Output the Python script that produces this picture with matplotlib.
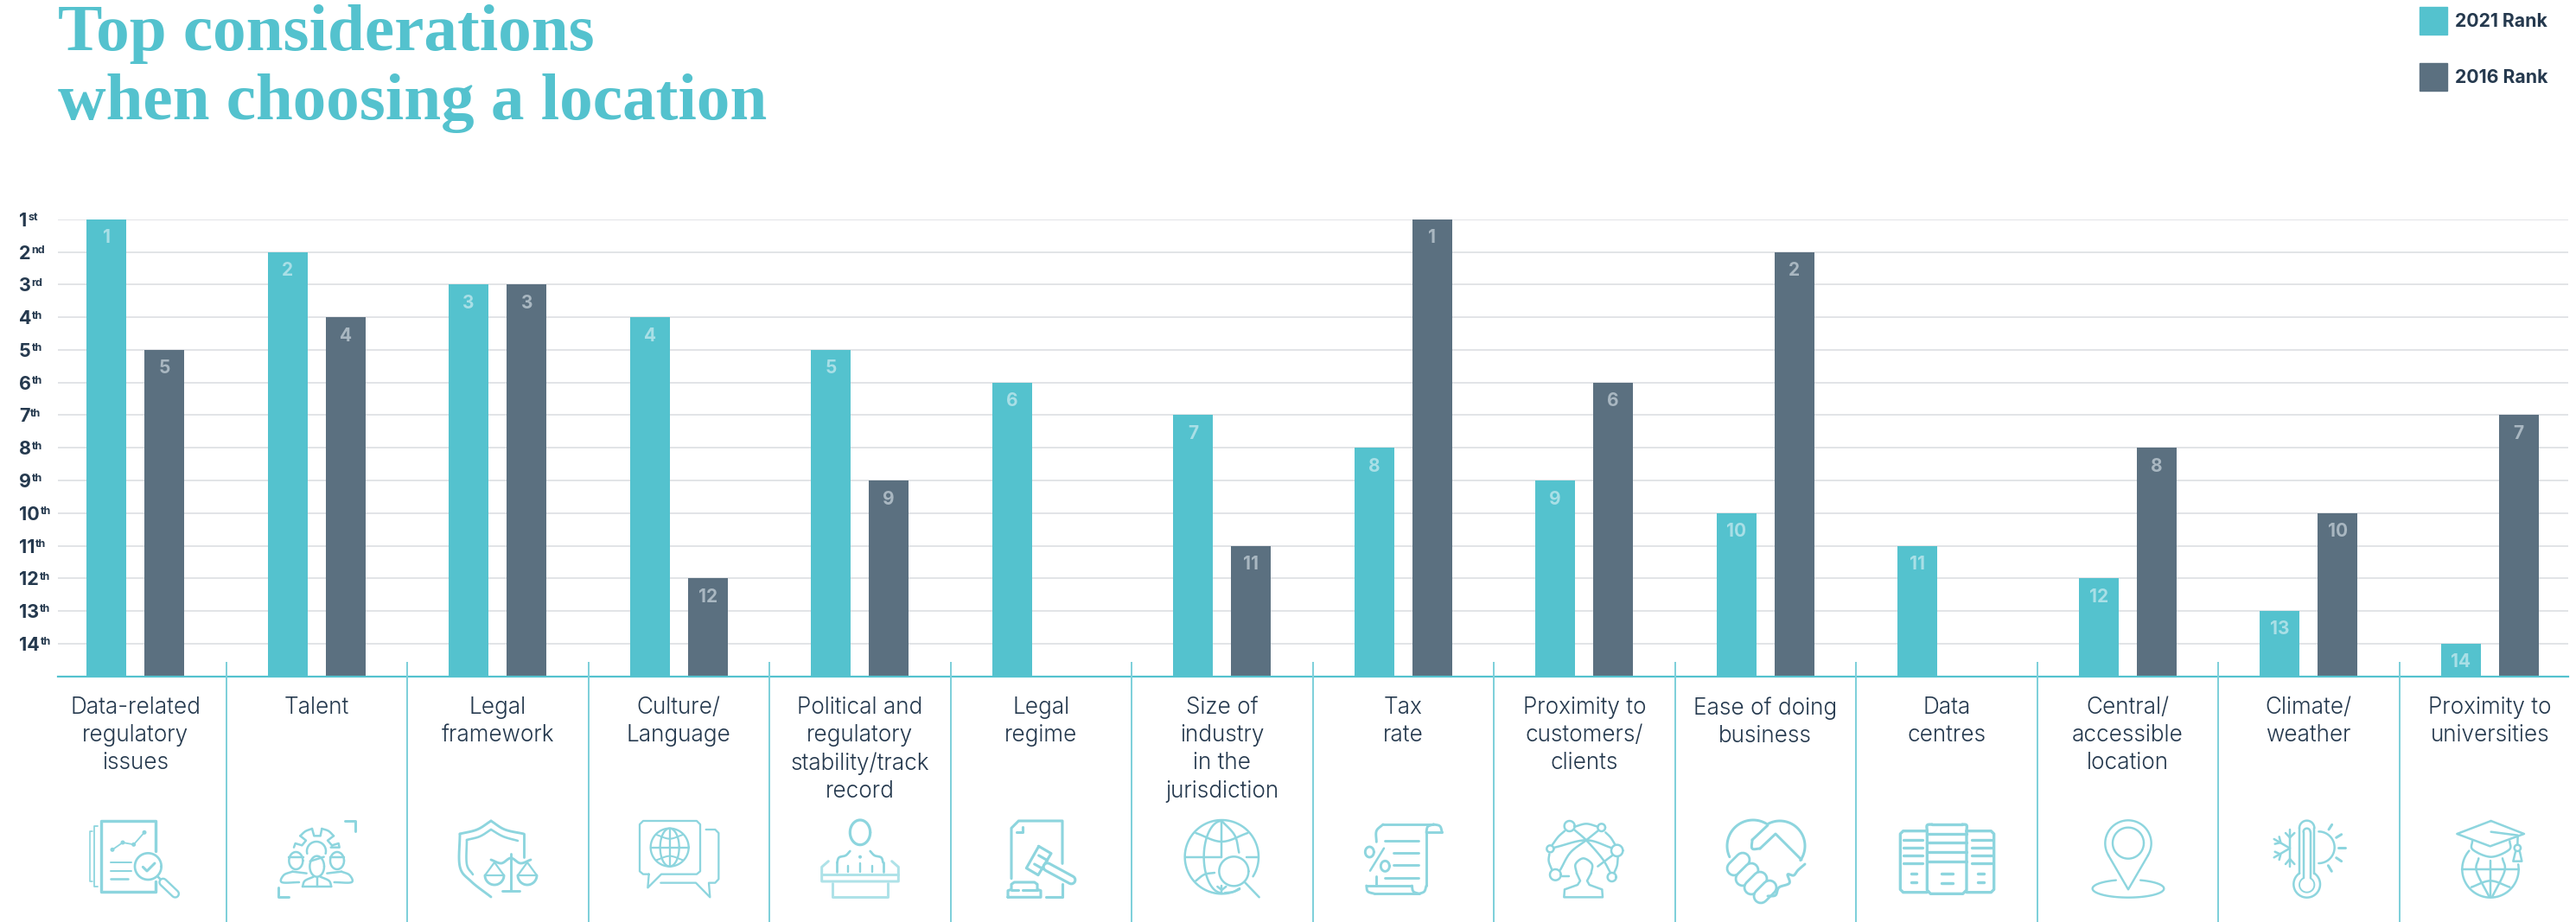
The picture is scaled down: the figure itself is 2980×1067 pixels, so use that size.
import numpy as np
import matplotlib
matplotlib.use("Agg")
import matplotlib.pyplot as plt
from matplotlib.lines import Line2D
from matplotlib.patches import Patch

# ---- data -------------------------------------------------------------
categories = [
    "Data-related\nregulatory\nissues", "Talent", "Legal\nframework",
    "Culture/\nLanguage", "Political and\nregulatory\nstability/track\nrecord",
    "Legal\nregime", "Size of\nindustry\nin the\njurisdiction", "Tax\nrate",
    "Proximity to\ncustomers/\nclients", "Ease of doing\nbusiness",
    "Data\ncentres", "Central/\naccessible\nlocation", "Climate/\nweather",
    "Proximity to\nuniversities",
]
rank_2021 = [1, 2, 3, 4, 5, 6, 7, 8, 9, 10, 11, 12, 13, 14]
rank_2016 = [5, 4, 3, 12, 9, None, 11, 1, 6, 2, None, 8, 10, 7]
tick_ranks = [1, 2, 3, 4, 5, 6, 7, 8, 9, 10, 11, 12, 13, 14]
tick_suffixes = ["st", "nd", "rd", "th", "th", "th", "th", "th", "th", "th",
                 "th", "th", "th", "th"]
title_lines = ["Top considerations", "when choosing a location"]

# ---- style ------------------------------------------------------------
TEAL = "#54C2CE"
SLATE = "#5B7080"
INK = "#25394E"
GRID = "#E2E4E7"
ICON = "#8DD5DE"
ICON_PALE = "#AEE2E8"
RULE = "#7FD0DA"
W, H, DPI = 2980, 1067, 100
PX = 72 / DPI  # points per output pixel
SANS = ["Inter", "DejaVu Sans"]

fig = plt.figure(figsize=(W / DPI, H / DPI), dpi=DPI, facecolor="white")

# Overlay in output pixels for the title, column rules and pictograms.
deco = fig.add_axes([0, 0, 1, 1], zorder=3)
deco.set_xlim(0, W)
deco.set_ylim(H, 0)
deco.axis("off")
deco.patch.set_alpha(0)

# ---- chart ------------------------------------------------------------
left, right, top, bottom = 67, 2971, 254, 782.5
col_w, col0 = 209.5, 156.75
ax = fig.add_axes([left / W, 1 - bottom / H, (right - left) / W, (bottom - top) / H])
ax.set_xlim((left - col0) / col_w, (right - col0) / col_w)
ax.set_ylim(15, 1)
ax.patch.set_alpha(0)
for s in ("top", "left", "right"):
    ax.spines[s].set_visible(False)
ax.spines["bottom"].set_color(TEAL)
ax.spines["bottom"].set_linewidth(2.2 * PX)
ax.set_xticks([])
ax.set_yticks(tick_ranks)
ax.set_yticklabels([str(r) for r in tick_ranks], fontfamily=SANS, fontweight="bold",
                   fontsize=15.5, color=INK, ha="left")
ax.tick_params(axis="y", length=0, pad=(left - 22) * PX)
ax.grid(axis="y", color=GRID, linewidth=2 * PX)
ax.set_axisbelow(True)

for lab, suffix in zip(ax.get_yticklabels(), tick_suffixes):
    ax.annotate(suffix, xy=(1, 0.5), xycoords=lab, xytext=(0.6, 0.4),
                textcoords="offset points", ha="left", va="baseline",
                fontfamily=SANS, fontweight="bold", fontsize=9, color=INK)

bar_w = 46 / col_w
offset = 33.5 / col_w
BASE = 15
for i, (a, b) in enumerate(zip(rank_2021, rank_2016)):
    for rank, dx, colour, text_c in ((a, -offset, TEAL, "#A9DFE6"),
                                     (b, offset, SLATE, "#A9B7C1")):
        if rank is None:
            continue
        ax.bar(i + dx, rank - BASE, bottom=BASE, width=bar_w, color=colour, zorder=2)
        ax.annotate(str(rank), (i + dx, rank), xytext=(0, -27.5 * PX),
                    textcoords="offset points", ha="center", va="baseline",
                    fontfamily=SANS, fontweight="bold", fontsize=15, color=text_c, zorder=3)

fig.legend(
    handles=[Patch(color=TEAL, label="2021 Rank"), Patch(color=SLATE, label="2016 Rank")],
    loc="upper left", bbox_to_anchor=(2799, 8), bbox_transform=deco.transData,
    frameon=False, borderpad=0, borderaxespad=0, handlelength=1.49, handleheight=1.91,
    handletextpad=0.42, labelspacing=1.58, labelcolor=INK,
    prop={"family": SANS, "weight": "bold", "size": 15.3},
)

# ---- title and column labels -------------------------------------------
for line, base in zip(title_lines, (58, 138)):
    deco.text(67, base, line, fontfamily=["Liberation Serif"], fontweight="bold",
              fontsize=55.5, color=TEAL, ha="left", va="baseline")

for k in range(13):
    x = col0 + col_w * (k + 0.5)
    deco.add_line(Line2D([x, x], [767, H], color=RULE, lw=2 * PX))

for i, label in enumerate(categories):
    deco.text(col0 + col_w * i, 806, label, fontfamily=SANS, fontweight=300,
              fontsize=18.8, color=INK, ha="center", va="top", linespacing=1.31)


# ---- pictograms ---------------------------------------------------------
class Pen:
    """Draws pictogram strokes given in a local grid, scaled into output pixels."""

    def __init__(self, ox, oy, scale=1 / 3, lw=2.7, color=ICON):
        self.ox, self.oy, self.s, self.lw, self.color = ox, oy, scale, lw, color

    def _draw(self, xs, ys, lw=None, color=None, **kw):
        xs = self.ox + np.asarray(xs, float) * self.s
        ys = self.oy + np.asarray(ys, float) * self.s
        deco.add_line(Line2D(xs, ys, lw=(lw or self.lw) * PX, color=color or self.color,
                             solid_capstyle="round", solid_joinstyle="round", **kw))

    def line(self, pts, lw=None, color=None):
        xs, ys = zip(*pts)
        self._draw(xs, ys, lw, color)

    def curve(self, pts, lw=None, color=None, n=14):
        # Catmull-Rom stroke through the given control points
        p = np.asarray(pts, float)
        p = np.vstack([2 * p[0] - p[1], p, 2 * p[-1] - p[-2]])
        out = []
        for j in range(1, len(p) - 2):
            for t in np.linspace(0, 1, n, endpoint=False):
                out.append(0.5 * ((2 * p[j]) + (p[j + 1] - p[j - 1]) * t
                                  + (2 * p[j - 1] - 5 * p[j] + 4 * p[j + 1] - p[j + 2]) * t ** 2
                                  + (3 * p[j] - p[j - 1] - 3 * p[j + 1] + p[j + 2]) * t ** 3))
        out.append(p[-2])
        out = np.array(out)
        self._draw(out[:, 0], out[:, 1], lw, color)

    def arc(self, cx, cy, rx, ry=None, t0=0, t1=360, lw=None, color=None):
        ry = rx if ry is None else ry
        t = np.radians(np.linspace(t0, t1, 90))
        self._draw(cx + rx * np.cos(t), cy + ry * np.sin(t), lw, color)

    def dot(self, cx, cy, r):
        t = np.linspace(0, 2 * np.pi, 30)
        deco.fill(self.ox + (cx + r * np.cos(t)) * self.s, self.oy + (cy + r * np.sin(t)) * self.s,
                  color=self.color, lw=0)

    def capsule(self, p0, p1, width, lw=None):
        outer = width * self.s / PX + 2 * (lw or self.lw)
        inner = width * self.s / PX
        xs, ys = zip(p0, p1)
        self._draw(xs, ys, outer / 1.0)
        xs2 = self.ox + np.asarray(xs, float) * self.s
        ys2 = self.oy + np.asarray(ys, float) * self.s
        deco.add_line(Line2D(xs2, ys2, lw=inner * PX, color="white", solid_capstyle="round"))


def icon_report():
    p = Pen(80, 940)
    p.line([(300, 135), (300, 30), (110, 30), (110, 277), (300, 277), (300, 240)], lw=3.4)
    p.line([(100, 47), (88, 47), (88, 258), (100, 258)], lw=1.8)
    p.line([(82, 65), (72, 65), (72, 240), (82, 240)], lw=1.6)
    p.line([(150, 130), (186, 105), (224, 112), (261, 70)], lw=1.8)
    for c in [(150, 130), (186, 105), (224, 112), (261, 70)]:
        p.dot(*c, 7.5)
    p.line([(145, 173), (217, 173)], lw=2)
    p.line([(145, 203), (217, 203)], lw=2)
    p.line([(145, 231), (205, 231)], lw=2.6)
    p.arc(274, 188, 46)
    p.line([(256, 190), (270, 204), (297, 177)], lw=3)
    p.line([(308, 224), (320, 236)])
    p.capsule((326, 243), (368, 283), 13, lw=2.4)


def icon_talent():
    p = Pen(80, 940, lw=2.5)
    p.line([(957, 30), (992, 30), (992, 65)], lw=3)
    p.line([(727, 262), (727, 295), (762, 295)], lw=3)
    p.line([(780, 122), (785, 108), (808, 115), (822, 98), (802, 82)])
    p.curve([(802, 82), (820, 66), (843, 57)])
    p.line([(843, 57), (850, 82), (872, 82), (877, 57)])
    p.curve([(877, 57), (900, 65), (918, 82)])
    p.line([(918, 82), (897, 98), (912, 115), (935, 108), (938, 122), (908, 122)])
    p.arc(858, 135, 33, t0=165, t1=375)
    for cx, cy, rx, ry in [(787, 168, 24, 30), (930, 168, 24, 30), (860, 188, 25, 36)]:
        p.arc(cx, cy, rx, ry)
    p.line([(762, 155), (812, 155)])
    p.line([(905, 155), (955, 155)])
    p.line([(836, 170), (884, 155)])
    p.curve([(798, 243), (738, 243), (745, 218), (775, 206)])
    p.line([(775, 206), (824, 212)])
    p.curve([(920, 243), (980, 243), (973, 218), (945, 206)])
    p.line([(945, 206), (895, 212)])
    p.curve([(810, 258), (818, 238), (848, 224)])
    p.curve([(910, 258), (902, 238), (872, 224)])
    p.line([(810, 258), (910, 258)])
    p.line([(860, 228), (860, 258)])


def icon_shield():
    p = Pen(0, 0, scale=1, lw=2.9)
    p.curve([(568, 950), (552, 960), (532, 965)])
    p.curve([(532, 965), (532, 1003), (545, 1020), (568, 1038)])
    p.curve([(568, 950), (584, 960), (606, 965)])
    p.line([(606, 965), (606, 992)])
    p.curve([(568, 960), (555, 968), (540, 972)], lw=2.6)
    p.curve([(540, 972), (540, 1000), (547, 1012)], lw=2.6)
    p.curve([(568, 960), (582, 968), (599, 973)], lw=2.6)
    p.line([(591, 988), (591, 1030)])
    p.line([(581, 1031), (601, 1031)])
    p.curve([(568, 995), (580, 999), (591, 993), (602, 999), (614, 995)])
    for c in (572, 610):
        p.line([(c - 11, 1013), (c, 998), (c + 11, 1013), (c - 11, 1013)], lw=2.2)
        p.arc(c, 1013, 11, t0=0, t1=180)


def icon_chat():
    p = Pen(720, 940, lw=2.3)
    p.line([(92, 215), (72, 215), (60, 205), (60, 42), (72, 30), (258, 30), (270, 42), (270, 205),
            (258, 215), (135, 215), (88, 262), (92, 215)])
    p.arc(164, 122, 66)
    p.arc(164, 122, 33, 66)
    p.line([(164, 56), (164, 188)])
    p.line([(98, 122), (230, 122)])
    p.curve([(118, 78), (164, 92), (210, 78)], lw=2)
    p.curve([(118, 166), (164, 152), (210, 166)], lw=2)
    p.line([(290, 60), (322, 60), (334, 72), (334, 232), (322, 245), (300, 245), (304, 295),
            (255, 245), (133, 245)])


def icon_podium():
    p = Pen(720, 940, lw=2.7)
    p.arc(825, 70, 35, 43, lw=3.2)
    p.curve([(790, 135), (775, 150), (752, 157), (745, 175)])
    p.line([(745, 175), (745, 208)])
    p.curve([(860, 135), (875, 150), (898, 157), (905, 175)])
    p.line([(905, 175), (905, 208)])
    for x, y0 in [(782, 187), (825, 177), (868, 187)]:
        p.line([(x, y0), (x, 208)], lw=2.4)
    p.dot(825, 155, 6)
    pale = Pen(720, 940, lw=3, color=ICON_PALE)
    pale.line([(715, 170), (692, 190), (692, 240), (958, 240), (958, 190), (935, 170)])
    pale.line([(692, 215), (958, 215)])
    pale.line([(728, 245), (728, 293), (922, 293), (922, 245)])


def icon_gavel():
    p = Pen(1150, 940, lw=3.1)
    p.line([(60, 230), (60, 55), (85, 30), (237, 30), (237, 178)])
    p.line([(237, 250), (237, 293), (180, 293)])
    p.line([(98, 50), (98, 68), (78, 68)])
    p.line([(155, 118), (198, 143), (153, 218), (112, 194), (155, 118)])
    p.line([(155, 150), (185, 167)])
    p.line([(140, 180), (170, 197)])
    p.capsule((185, 190), (268, 235), 13)
    p.line([(48, 295), (48, 272), (60, 268), (60, 250), (70, 243), (140, 243), (150, 250),
            (150, 268), (162, 272), (162, 295), (48, 295)])
    p.line([(60, 270), (85, 270)])
    p.line([(100, 270), (150, 270)])


def icon_globe_search():
    p = Pen(1150, 940, lw=2.5)
    p.arc(790, 155, 128, t0=61, t1=392)
    p.line([(790, 30), (790, 155)])
    p.line([(790, 255), (790, 282)])
    p.line([(665, 155), (790, 155)])
    p.line([(875, 155), (915, 155)])
    p.arc(790, 155, 62, 125, t0=90, t1=270)
    p.curve([(790, 30), (835, 80), (850, 140)])
    p.curve([(700, 72), (790, 102), (880, 72)])
    p.curve([(700, 238), (730, 216), (765, 210)])
    p.line([(775, 258), (790, 270), (805, 258)])
    p.curve([(800, 280), (830, 276), (852, 264)])
    p.arc(832, 205, 51)
    p.line([(870, 243), (920, 295)])


def icon_scroll():
    p = Pen(1150, 940, lw=2.9)
    p.curve([(1327, 103), (1327, 65), (1350, 42)])
    p.line([(1350, 42), (1525, 42)])
    p.curve([(1525, 42), (1547, 48), (1555, 70)])
    p.line([(1555, 70), (1500, 70)])
    p.curve([(1525, 42), (1505, 50), (1500, 70)])
    p.line([(1500, 70), (1500, 255)])
    p.curve([(1500, 255), (1493, 275), (1475, 283)])
    p.line([(1475, 283), (1320, 283)])
    p.curve([(1320, 283), (1297, 275), (1292, 255)])
    p.line([(1292, 255), (1450, 255)])
    p.curve([(1450, 255), (1455, 275), (1475, 283)])
    p.line([(1327, 222), (1327, 255)])
    for x0, y in [(1355, 98), (1387, 141), (1387, 184), (1355, 227)]:
        p.line([(x0, y), (1473, y)])
    p.line([(1353, 125), (1305, 203)], lw=2.5)
    p.arc(1303, 138, 15, 18)
    p.arc(1357, 187, 15, 18)


def icon_network():
    p = Pen(1560, 940, lw=2.5)
    for c in [(767, 48, 18), (878, 53, 13), (700, 127, 12), (932, 133, 20), (718, 217, 19), (914, 225, 15)]:
        p.arc(c[0], c[1], c[2])
    p.curve([(785, 50), (825, 40), (865, 50)])
    p.curve([(892, 70), (910, 88), (925, 112)])
    p.curve([(750, 65), (728, 85), (708, 112)])
    p.curve([(697, 145), (695, 170), (706, 200)])
    p.curve([(935, 155), (932, 185), (922, 210)])
    p.curve([(716, 122), (825, 97), (914, 124)])
    p.curve([(735, 200), (770, 140), (825, 97), (866, 64)])
    p.curve([(785, 62), (825, 97), (880, 160), (908, 208)])
    p.line([(865, 188), (918, 148)])
    p.line([(740, 222), (765, 222)])
    p.curve([(792, 212), (788, 180), (815, 160), (845, 180), (842, 212)])
    p.line([(792, 212), (804, 238), (795, 252), (750, 268), (748, 295), (882, 295), (880, 268),
            (836, 252), (828, 238), (842, 212)])


def icon_handshake():
    p = Pen(0, 0, scale=1, lw=3)
    p.arc(2028, 979, 30, t0=155, t1=300)
    p.arc(2059, 979, 29, t0=240, t1=395)
    p.line([(2045, 955), (2027, 972)])
    p.curve([(2027, 972), (2027, 982), (2036, 982)])
    p.line([(2036, 982), (2054, 965), (2084, 995)])
    for c in [(2011, 1000), (2021, 1012), (2031, 1022), (2042, 1032)]:
        p.capsule((c[0] - 5, c[1] + 5), (c[0] + 5, c[1] - 5), 9.5, lw=2.8)
    p.curve([(2088, 1000), (2080, 1007), (2075, 1013), (2068, 1012), (2070, 1022), (2058, 1027),
             (2054, 1036), (2045, 1037)])


def icon_servers():
    p = Pen(2150, 940, lw=3.3)
    p.curve([(238, 65), (238, 45), (255, 42)], lw=3.3, n=6)
    p.line([(255, 42), (360, 42)])
    p.curve([(360, 42), (375, 45), (375, 65)], lw=3.3, n=6)
    p.line([(238, 65), (238, 270), (250, 283), (362, 283), (375, 270), (375, 65)])
    p.line([(238, 65), (155, 65), (145, 75), (145, 268), (155, 278), (238, 278)])
    p.line([(375, 65), (460, 65), (470, 75), (470, 268), (460, 278), (375, 278)])
    for y in (75, 105, 137, 172):
        p.line([(238, y), (375, y)])
    for y in (95, 123, 150, 178):
        p.line([(155, y), (222, y)])
        p.line([(393, y), (462, y)])
    for x0, x1, ys in [(182, 202, (214, 244)), (288, 328, (212, 246)), (414, 435, (214, 244))]:
        for y in ys:
            p.line([(x0, y), (x1, y)], lw=3.4)


def icon_pin():
    p = Pen(2150, 940, lw=2.4)
    p.arc(936, 108, 80, t0=149, t1=391)
    p.line([(867, 149), (936, 268), (1005, 149)])
    p.arc(936, 107, 54)
    p.arc(936, 265, 124, 31, t0=290, t1=610)


def icon_thermo():
    p = Pen(2460, 940, lw=2.5)
    p.arc(626, 55, 26, t0=180, t1=360)
    p.line([(600, 55), (600, 212)])
    p.line([(652, 55), (652, 212)])
    p.arc(626, 250, 46, t0=-56, t1=236)
    p.arc(626, 68, 12, t0=180, t1=360)
    p.line([(614, 68), (614, 228)])
    p.line([(638, 68), (638, 228)])
    p.arc(626, 252, 26, t0=-62, t1=242, lw=1.9)
    p.line([(567, 60), (567, 188)])
    p.line([(552, 72), (567, 88), (583, 72)])
    p.line([(552, 180), (567, 162), (583, 180)])
    p.line([(567, 125), (512, 93)])
    p.line([(567, 125), (512, 157)])
    p.line([(530, 85), (535, 105), (515, 110)])
    p.line([(515, 137), (535, 146), (530, 165)])
    p.arc(667, 122, 55, t0=-90, t1=90)
    for a, b in [((702, 60), (713, 43)), ((728, 88), (746, 77)), ((736, 124), (758, 124)),
                 ((728, 158), (746, 170)), ((700, 185), (712, 205))]:
        p.line([a, b], lw=3)


def icon_graduate():
    p = Pen(2460, 940, lw=2.5)
    p.line([(1265, 30), (1147, 75), (1262, 118), (1380, 75), (1265, 30)])
    p.line([(1265, 68), (1358, 80), (1357, 112)])
    p.arc(1357, 124, 11)
    p.line([(1350, 137), (1342, 170), (1372, 170), (1365, 137)])
    p.curve([(1200, 100), (1202, 130), (1265, 155), (1328, 130), (1330, 100)])
    p.arc(1263, 198, 98, t0=-10, t1=221)
    p.line([(1165, 197), (1362, 197)])
    p.line([(1263, 168), (1263, 295)])
    p.curve([(1222, 160), (1215, 205), (1258, 292)])
    p.curve([(1305, 160), (1312, 205), (1270, 292)])
    p.curve([(1197, 260), (1263, 238), (1330, 260)])


for draw_icon in (icon_report, icon_talent, icon_shield, icon_chat, icon_podium, icon_gavel,
                  icon_globe_search, icon_scroll, icon_network, icon_handshake, icon_servers,
                  icon_pin, icon_thermo, icon_graduate):
    draw_icon()

deco.set_xlim(0, W)
deco.set_ylim(H, 0)
fig.savefig("out.png", dpi=DPI, facecolor="white")
